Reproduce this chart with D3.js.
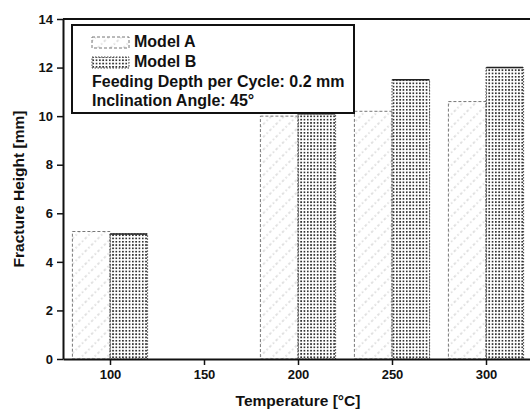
<!DOCTYPE html>
<html><head><meta charset="utf-8">
<script src="https://cdn.jsdelivr.net/npm/d3@7"></script>
<style>body{margin:0;background:#fff}svg{display:block}text{font-family:Arial,"Liberation Sans",sans-serif;font-weight:bold;fill:#111}</style>
</head><body>
<script>
const temperatures = [100, 200, 250, 300];
const modelA = [5.25, 10.0, 10.2, 10.6];
const modelB = [5.15, 10.1, 11.5, 12.0];
const xTicks = [100, 150, 200, 250, 300];
const yTicks = [0, 2, 4, 6, 8, 10, 12, 14];
const seriesNames = ["Model A", "Model B"];
const noteLines = ["Feeding Depth per Cycle: 0.2 mm", "Inclination Angle: 45°"];

const W = 530, H = 411;
const svg = d3.select("body").append("svg").attr("width", W).attr("height", H);
const defs = svg.append("defs");

const pa = defs.append("pattern").attr("id","pA").attr("patternUnits","userSpaceOnUse")
  .attr("width",9).attr("height",9).attr("patternTransform","rotate(-45)");
pa.append("line").attr("x1",0).attr("y1",4).attr("x2",9).attr("y2",4)
  .attr("stroke","#bbb").attr("stroke-width",0.9).attr("stroke-dasharray","1.5,2.5");
const pb = defs.append("pattern").attr("id","pB").attr("patternUnits","userSpaceOnUse")
  .attr("width",3.3).attr("height",3.3);
pb.append("rect").attr("width",1.7).attr("height",1.7).attr("fill","#333");

const x = d3.scaleLinear().domain([75, 325]).range([63, 533]);
const y = d3.scaleLinear().domain([0, 14]).range([359, 19]);

// bars
const g = svg.append("g");
temperatures.forEach((t, i) => {
  g.append("rect").attr("x", x(t - 20)).attr("y", y(modelA[i]))
    .attr("width", x(t) - x(t - 20)).attr("height", y(0) - y(modelA[i]))
    .attr("fill", "url(#pA)").attr("stroke", "#777").attr("stroke-width", 1)
    .attr("stroke-dasharray", "3,2");
  g.append("rect").attr("x", x(t)).attr("y", y(modelB[i]))
    .attr("width", x(t + 20) - x(t)).attr("height", y(0) - y(modelB[i]))
    .attr("fill", "url(#pB)").attr("stroke", "#444").attr("stroke-width", 1)
    .attr("stroke-dasharray", "1.5,1.5");
  g.append("line").attr("x1", x(t) + 0.5).attr("x2", x(t + 20) - 0.5)
    .attr("y1", y(modelB[i])).attr("y2", y(modelB[i]))
    .attr("stroke", "#222").attr("stroke-width", 1.5);
});

// axes
const xAxis = svg.append("g").attr("transform", `translate(0,${y(0)})`)
  .call(d3.axisBottom(x).tickValues(xTicks).tickSize(6).tickSizeOuter(0).tickPadding(5));
const yAxis = svg.append("g").attr("transform", `translate(${x(75)},0)`)
  .call(d3.axisLeft(y).tickValues(yTicks).tickSize(6).tickSizeOuter(0).tickPadding(4));
[xAxis, yAxis].forEach(a => {
  a.select(".domain").attr("stroke", "#111").attr("stroke-width", 2);
  a.selectAll(".tick line").attr("stroke", "#111").attr("stroke-width", 1.5);
  a.selectAll(".tick text").attr("font-size", 13).attr("font-family", "Arial,'Liberation Sans',sans-serif").attr("font-weight","bold").attr("fill","#111");
});
// top frame
svg.append("line").attr("x1", x(75)).attr("x2", W).attr("y1", y(14)).attr("y2", y(14))
  .attr("stroke", "#111").attr("stroke-width", 2);

// axis titles
svg.append("text").attr("x", 298).attr("y", 406).attr("text-anchor", "middle")
  .attr("font-size", 15.5).text("Temperature [°C]");
svg.append("text").attr("transform", "translate(24,189) rotate(-90)").attr("text-anchor", "middle")
  .attr("font-size", 15.5).text("Fracture Height [mm]");

// legend
const lg = svg.append("g");
lg.append("rect").attr("x", 72).attr("y", 25).attr("width", 282).attr("height", 88)
  .attr("fill", "#fff").attr("stroke", "#111").attr("stroke-width", 2);
lg.append("rect").attr("x", 92).attr("y", 37).attr("width", 37).attr("height", 11)
  .attr("fill", "url(#pA)").attr("stroke", "#777").attr("stroke-dasharray", "3,2");
lg.append("rect").attr("x", 92).attr("y", 57).attr("width", 37).attr("height", 11)
  .attr("fill", "url(#pB)").attr("stroke", "#444").attr("stroke-dasharray", "1.5,1.5");
seriesNames.forEach((n, i) => {
  lg.append("text").attr("x", 134).attr("y", 47 + i * 20).attr("font-size", 16).text(n);
});
noteLines.forEach((n, i) => {
  lg.append("text").attr("x", 92).attr("y", 87 + i * 19).attr("font-size", 16).text(n);
});
</script>
</body></html>
